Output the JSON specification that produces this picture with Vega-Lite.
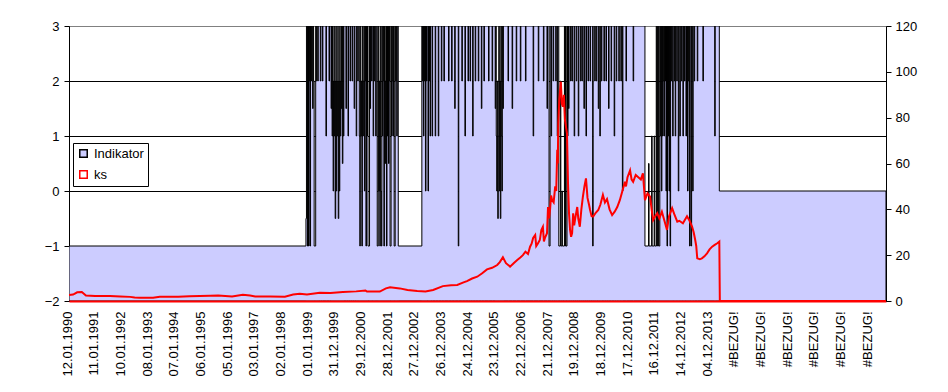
{
  "$schema": "https://vega.github.io/schema/vega-lite/v6.json",
  "width": 817,
  "height": 275,
  "autosize": {"type": "none"},
  "padding": {"left": 69, "top": 26, "right": 62, "bottom": 91},
  "background": "white",
  "config": {
    "view": {"stroke": "#808080", "strokeWidth": 1},
    "font": "Liberation Sans",
    "axis": {"labelFont": "Liberation Sans", "labelFontSize": 13, "labelColor": "#000000", "tickColor": "#000000", "domainColor": "#000000", "title": null},
    "axisX": {"labelOverlap": false, "labelFlush": false, "labelBound": false}
  },
  "datasets": {
    "ind": [
      {"i":0,"v":-1},{"i":462,"v":-0.5},{"i":463,"v":3},{"i":465,"v":-1},{"i":466,"v":3},{"i":467,"v":-1},{"i":468,"v":2},{"i":469,"v":3},{"i":470,"v":-1},{"i":471,"v":3},{"i":472,"v":2},{"i":473,"v":3},{"i":475,"v":1.5},{"i":476,"v":3},{"i":477,"v":2},{"i":478,"v":-1},{"i":481,"v":3},{"i":482,"v":2},{"i":483,"v":3},{"i":485,"v":2},{"i":486,"v":3},{"i":490,"v":2},{"i":491,"v":3},{"i":494,"v":2},{"i":495,"v":3},{"i":501,"v":1},{"i":502,"v":3},{"i":507,"v":2},{"i":508,"v":3},{"i":511,"v":1.5},{"i":512,"v":3},{"i":513,"v":1},{"i":514,"v":3},{"i":515,"v":0},{"i":516,"v":2},{"i":517,"v":1},{"i":518,"v":3},{"i":519,"v":-0.5},{"i":520,"v":2},{"i":521,"v":0},{"i":522,"v":3},{"i":523,"v":1},{"i":524,"v":2},{"i":525,"v":-0.5},{"i":526,"v":3},{"i":527,"v":0},{"i":528,"v":2},{"i":529,"v":1},{"i":530,"v":3},{"i":531,"v":1.5},{"i":532,"v":3},{"i":533,"v":0.5},{"i":534,"v":3},{"i":535,"v":1},{"i":536,"v":3},
      {"i":540,"v":1.5},{"i":541,"v":3},{"i":544,"v":1},{"i":545,"v":3},{"i":548,"v":2},{"i":549,"v":3},{"i":552,"v":2},{"i":553,"v":3},{"i":556,"v":1.5},{"i":557,"v":3},{"i":560,"v":1},{"i":561,"v":3},{"i":563,"v":2},{"i":564,"v":3},{"i":566,"v":1},{"i":567,"v":-1},{"i":568,"v":3},{"i":569,"v":1},{"i":570,"v":2},{"i":571,"v":-1},{"i":572,"v":3},{"i":573,"v":1},{"i":574,"v":2},{"i":575,"v":3},{"i":576,"v":0},{"i":577,"v":2},{"i":578,"v":3},{"i":579,"v":-1},{"i":580,"v":3},{"i":581,"v":1},{"i":582,"v":3},{"i":583,"v":-1},{"i":586,"v":3},{"i":587,"v":1.5},{"i":588,"v":3},{"i":590,"v":2},{"i":591,"v":3},{"i":593,"v":1},{"i":594,"v":3},{"i":595,"v":2},{"i":596,"v":3},{"i":598,"v":1},{"i":599,"v":3},{"i":601,"v":-1},{"i":603,"v":3},{"i":604,"v":0},{"i":605,"v":2},{"i":606,"v":-1},{"i":607,"v":3},{"i":608,"v":0},{"i":609,"v":-1},{"i":610,"v":3},{"i":611,"v":1},{"i":612,"v":2},{"i":613,"v":3},{"i":614,"v":-1},{"i":615,"v":3},{"i":616,"v":0.5},{"i":617,"v":2},{"i":618,"v":3},{"i":619,"v":-1},{"i":620,"v":3},{"i":621,"v":1},{"i":622,"v":3},{"i":623,"v":0.5},{"i":624,"v":2},{"i":625,"v":3},{"i":626,"v":-1},{"i":628,"v":3},{"i":629,"v":1},{"i":630,"v":2},{"i":631,"v":3},{"i":632,"v":1},{"i":633,"v":3},{"i":634,"v":-1},{"i":636,"v":3},{"i":637,"v":2},{"i":638,"v":3},{"i":639,"v":1},{"i":640,"v":3},{"i":642,"v":-1},
      {"i":688,"v":3},{"i":689,"v":2},{"i":690,"v":3},{"i":691,"v":1},{"i":692,"v":3},{"i":693,"v":2},{"i":694,"v":3},{"i":695,"v":0},{"i":696,"v":3},{"i":697,"v":2},{"i":698,"v":3},{"i":700,"v":0},{"i":701,"v":3},{"i":702,"v":2},{"i":703,"v":3},{"i":704,"v":1},{"i":705,"v":3},{"i":708,"v":1},{"i":709,"v":3},{"i":714,"v":1},{"i":715,"v":3},{"i":720,"v":1},{"i":721,"v":3},{"i":726,"v":2},{"i":727,"v":3},{"i":731,"v":2},{"i":732,"v":3},{"i":740,"v":2},{"i":741,"v":3},{"i":746,"v":2},{"i":747,"v":3},{"i":752,"v":1.5},{"i":753,"v":3},{"i":759,"v":-1},{"i":760,"v":3},{"i":766,"v":2},{"i":767,"v":3},{"i":772,"v":1},{"i":773,"v":3},{"i":778,"v":2},{"i":779,"v":3},{"i":782,"v":2},{"i":783,"v":3},{"i":787,"v":1},{"i":788,"v":3},{"i":792,"v":2},{"i":793,"v":3},{"i":798,"v":2},{"i":799,"v":3},{"i":804,"v":1.5},{"i":805,"v":3},{"i":809,"v":2},{"i":810,"v":3},{"i":818,"v":2},{"i":819,"v":3},{"i":825,"v":2},{"i":826,"v":3},{"i":831,"v":1.5},{"i":832,"v":3},{"i":833,"v":1},{"i":834,"v":0},{"i":835,"v":2},{"i":836,"v":-0.5},{"i":837,"v":1},{"i":838,"v":3},{"i":839,"v":0},{"i":840,"v":2},{"i":841,"v":-0.5},{"i":842,"v":3},{"i":843,"v":1},{"i":844,"v":0},{"i":845,"v":3},{"i":846,"v":1.5},{"i":847,"v":3},{"i":856,"v":2},{"i":857,"v":3},{"i":864,"v":1.5},{"i":865,"v":3},{"i":872,"v":2},{"i":873,"v":3},{"i":880,"v":2},{"i":881,"v":3},{"i":890,"v":2},{"i":891,"v":3},{"i":905,"v":1},{"i":906,"v":3},{"i":915,"v":2},{"i":916,"v":3},{"i":925,"v":2},{"i":926,"v":3},
      {"i":932,"v":1.5},{"i":933,"v":3},{"i":936,"v":-1},{"i":938,"v":3},{"i":940,"v":1},{"i":941,"v":3},{"i":944,"v":2},{"i":945,"v":3},{"i":949,"v":2},{"i":950,"v":3},{"i":952,"v":1},{"i":953,"v":3},{"i":955,"v":-1},{"i":958,"v":2},{"i":959,"v":-1},{"i":961,"v":0},{"i":962,"v":-1},{"i":966,"v":3},{"i":967,"v":-1},{"i":968,"v":3},{"i":969,"v":-1},{"i":971,"v":3},{"i":972,"v":1},{"i":973,"v":3},{"i":974,"v":1.5},{"i":975,"v":3},{"i":978,"v":2},{"i":979,"v":3},{"i":981,"v":2},{"i":982,"v":3},{"i":985,"v":1},{"i":986,"v":3},{"i":989,"v":2},{"i":990,"v":3},{"i":993,"v":1},{"i":994,"v":3},{"i":997,"v":2},{"i":998,"v":3},{"i":1000,"v":2},{"i":1001,"v":3},{"i":1004,"v":1.5},{"i":1005,"v":3},{"i":1008,"v":1},{"i":1009,"v":3},{"i":1012,"v":2},{"i":1013,"v":3},{"i":1016,"v":2},{"i":1017,"v":3},{"i":1021,"v":-1},{"i":1022,"v":3},{"i":1025,"v":2},{"i":1026,"v":3},{"i":1028,"v":2},{"i":1029,"v":3},{"i":1032,"v":1.5},{"i":1033,"v":3},{"i":1035,"v":1},{"i":1036,"v":3},{"i":1038,"v":2},{"i":1039,"v":3},{"i":1043,"v":2},{"i":1044,"v":3},{"i":1047,"v":2},{"i":1048,"v":3},{"i":1052,"v":1.5},{"i":1053,"v":3},{"i":1057,"v":2},{"i":1058,"v":3},{"i":1063,"v":1},{"i":1064,"v":3},{"i":1067,"v":2},{"i":1068,"v":3},{"i":1072,"v":2},{"i":1073,"v":3},{"i":1076,"v":2},{"i":1077,"v":3},{"i":1079,"v":0},{"i":1080,"v":3},{"i":1086,"v":2},{"i":1087,"v":3},{"i":1100,"v":2},{"i":1101,"v":3},
      {"i":1123,"v":-1},{"i":1130,"v":0.5},{"i":1131,"v":-1},{"i":1136,"v":1},{"i":1137,"v":-1},{"i":1141,"v":1},{"i":1142,"v":-1},{"i":1145,"v":3},{"i":1146,"v":-1},{"i":1147,"v":3},{"i":1148,"v":-1},{"i":1149,"v":3},{"i":1150,"v":-1},{"i":1152,"v":3},{"i":1153,"v":1},{"i":1154,"v":3},{"i":1155,"v":0},{"i":1156,"v":3},{"i":1157,"v":1},{"i":1158,"v":3},{"i":1159,"v":2},{"i":1160,"v":1},{"i":1161,"v":3},{"i":1162,"v":2},{"i":1163,"v":3},{"i":1164,"v":0},{"i":1165,"v":3},{"i":1166,"v":-1},{"i":1167,"v":3},{"i":1168,"v":1},{"i":1169,"v":3},{"i":1170,"v":0},{"i":1171,"v":3},{"i":1172,"v":-1},{"i":1173,"v":3},{"i":1174,"v":2},{"i":1175,"v":3},{"i":1177,"v":1},{"i":1178,"v":3},{"i":1180,"v":2},{"i":1181,"v":3},{"i":1182,"v":1},{"i":1183,"v":3},{"i":1185,"v":2},{"i":1186,"v":3},{"i":1188,"v":0},{"i":1189,"v":3},{"i":1191,"v":1},{"i":1192,"v":3},{"i":1194,"v":2},{"i":1195,"v":3},{"i":1197,"v":1},{"i":1198,"v":3},{"i":1200,"v":2},{"i":1201,"v":3},{"i":1203,"v":1},{"i":1204,"v":3},{"i":1206,"v":0},{"i":1207,"v":2},{"i":1208,"v":3},{"i":1210,"v":-1},{"i":1211,"v":3},{"i":1213,"v":-1},{"i":1214,"v":3},{"i":1216,"v":0},{"i":1217,"v":3},{"i":1219,"v":2},{"i":1220,"v":3},{"i":1225,"v":2},{"i":1226,"v":3},{"i":1236,"v":2},{"i":1237,"v":3},{"i":1259,"v":1},{"i":1260,"v":3},{"i":1268,"v":0},{"i":1593,"v":0}
    ],
    "ks": [
      {"i":0,"v":2.6},{"i":8,"v":2.8},{"i":16,"v":3.8},{"i":25,"v":3.9},{"i":33,"v":2.4},{"i":51,"v":2.2},{"i":80,"v":2.2},{"i":100,"v":2.0},{"i":119,"v":1.8},{"i":128,"v":1.5},{"i":138,"v":1.4},{"i":164,"v":1.4},{"i":177,"v":1.9},{"i":213,"v":1.9},{"i":235,"v":2.1},{"i":255,"v":2.2},{"i":275,"v":2.3},{"i":291,"v":2.4},{"i":318,"v":2.0},{"i":339,"v":2.7},{"i":353,"v":2.4},{"i":363,"v":2.0},{"i":392,"v":2.0},{"i":421,"v":1.9},{"i":437,"v":2.8},{"i":450,"v":3.2},{"i":464,"v":2.8},{"i":489,"v":3.6},{"i":510,"v":3.5},{"i":534,"v":3.9},{"i":560,"v":4.2},{"i":578,"v":4.6},{"i":581,"v":4.1},{"i":606,"v":4.1},{"i":618,"v":5.5},{"i":626,"v":6.0},{"i":645,"v":5.5},{"i":660,"v":4.8},{"i":679,"v":4.4},{"i":695,"v":4.2},{"i":710,"v":4.8},{"i":729,"v":6.5},{"i":745,"v":6.9},{"i":757,"v":7.0},{"i":768,"v":8.0},{"i":776,"v":8.7},{"i":786,"v":9.8},{"i":796,"v":10.6},{"i":805,"v":12.0},{"i":815,"v":13.8},{"i":825,"v":14.5},{"i":835,"v":15.7},{"i":840,"v":17.0},{"i":846,"v":19.1},{"i":852,"v":16.5},{"i":860,"v":15.0},{"i":867,"v":16.5},{"i":874,"v":17.9},{"i":880,"v":19.0},{"i":885,"v":20},{"i":890,"v":21.5},{"i":895,"v":20.5},{"i":899,"v":23.7},{"i":902,"v":25},{"i":905,"v":27.5},{"i":909,"v":28.8},{"i":911,"v":24},{"i":914,"v":25.0},{"i":918,"v":26.6},{"i":921,"v":31},{"i":924,"v":32.4},{"i":926,"v":26},{"i":928,"v":27.5},{"i":932,"v":29.6},{"i":934,"v":41},{"i":936,"v":36},{"i":938,"v":40},{"i":940,"v":46},{"i":942,"v":44},{"i":945,"v":43},{"i":948,"v":50},{"i":950,"v":48},{"i":952,"v":66},{"i":953,"v":60},{"i":954,"v":77.5},{"i":956,"v":88},{"i":959,"v":95.7},{"i":961,"v":86},{"i":963,"v":84.8},{"i":965,"v":90},{"i":967,"v":79},{"i":969,"v":76},{"i":971,"v":73},{"i":973,"v":51.4},{"i":975,"v":38},{"i":977,"v":31},{"i":979,"v":28},{"i":981,"v":29.6},{"i":983,"v":38.3},{"i":985,"v":33},{"i":987,"v":36},{"i":991,"v":41},{"i":993,"v":36},{"i":996,"v":32.4},{"i":999,"v":40},{"i":1002,"v":45.5},{"i":1005,"v":50},{"i":1008,"v":53.5},{"i":1011,"v":45},{"i":1014,"v":42},{"i":1016,"v":39.7},{"i":1019,"v":37},{"i":1022,"v":36.8},{"i":1027,"v":38.5},{"i":1032,"v":39.7},{"i":1036,"v":42},{"i":1041,"v":46.3},{"i":1045,"v":43},{"i":1049,"v":44.5},{"i":1054,"v":40},{"i":1059,"v":37.5},{"i":1064,"v":39},{"i":1069,"v":41},{"i":1074,"v":44},{"i":1079,"v":48},{"i":1084,"v":52},{"i":1086,"v":50},{"i":1089,"v":54},{"i":1094,"v":57},{"i":1097,"v":53},{"i":1100,"v":52},{"i":1105,"v":55},{"i":1110,"v":54},{"i":1115,"v":53},{"i":1119,"v":55.7},{"i":1121,"v":50},{"i":1123,"v":44},{"i":1128,"v":47},{"i":1133,"v":45.5},{"i":1136,"v":40},{"i":1139,"v":35.3},{"i":1143,"v":37},{"i":1147,"v":38.3},{"i":1151,"v":36},{"i":1156,"v":39},{"i":1161,"v":35},{"i":1166,"v":31},{"i":1170,"v":37},{"i":1176,"v":40.5},{"i":1180,"v":38},{"i":1186,"v":34.6},{"i":1190,"v":35},{"i":1197,"v":33.9},{"i":1205,"v":37},{"i":1210,"v":35},{"i":1215,"v":32.4},{"i":1218,"v":30},{"i":1221,"v":26.6},{"i":1223,"v":24},{"i":1225,"v":18.6},{"i":1230,"v":18.2},{"i":1234,"v":18.6},{"i":1239,"v":19.5},{"i":1244,"v":20.8},{"i":1249,"v":22.5},{"i":1254,"v":23.7},{"i":1259,"v":24.5},{"i":1264,"v":25.2},{"i":1268,"v":25.9},{"i":1269,"v":0},{"i":1593,"v":0}
    ]
  },
  "encoding": {
    "x": {
      "field": "i", "type": "quantitative",
      "scale": {"domain": [0, 1593], "nice": false, "zero": false},
      "axis": {
        "values": [0,52,104,156,208,260,312,364,416,468,520,572,624,676,728,780,832,884,936,988,1040,1092,1144,1196,1248,1300,1352,1404,1456,1508,1560],
        "labelExpr": "['12.01.1990','11.01.1991','10.01.1992','08.01.1993','07.01.1994','06.01.1995','05.01.1996','03.01.1997','02.01.1998','01.01.1999','31.12.1999','29.12.2000','28.12.2001','27.12.2002','26.12.2003','24.12.2004','23.12.2005','22.12.2006','21.12.2007','19.12.2008','18.12.2009','17.12.2010','16.12.2011','14.12.2012','04.12.2013','#BEZUG!','#BEZUG!','#BEZUG!','#BEZUG!','#BEZUG!','#BEZUG!'][round(datum.value / 52)]",
        "labelAngle": 270,
        "ticks": false,
        "tickSize": 0,
        "labelPadding": 10,
        "labelOffset": -2,
        "labelFlush": false,
        "labelOverlap": false,
        "labelBound": false,
        "grid": false,
        "domainColor": "#FF0000",
        "domainWidth": 2,
        "zindex": 1,
        "title": null
      }
    }
  },
  "layer": [
    {
      "data": {"name": "ind"},
      "mark": {"type": "area", "interpolate": "step-after", "strokeWidth": 1, "fillOpacity": 1, "clip": true},
      "encoding": {
        "y": {
          "field": "v", "type": "quantitative",
          "scale": {"domain": [-2, 3], "nice": false, "zero": false},
          "axis": {
            "orient": "left",
            "values": [-2, -1, 0, 1, 2, 3],
            "format": "d",
            "grid": true,
            "gridColor": {"condition": {"test": "datum.value == 3", "value": "#808080"}, "value": "#000000"},
            "gridOpacity": 1,
            "gridWidth": 1,
            "tickSize": 5,
            "labelPadding": 5,
            "domainColor": "#000000",
            "title": null
          }
        },
        "y2": {"datum": -2},
        "fill": {
          "datum": "Indikator", "type": "nominal",
          "scale": {"domain": ["Indikator", "ks"], "range": ["#CCCCFF", "#FFFFFF"]},
          "legend": {"orient": "none", "legendX": 4, "legendY": 117, "title": null, "symbolType": "square", "symbolSize": 56, "symbolStrokeWidth": 1.5, "labelFont": "Liberation Sans", "labelFontSize": 13, "labelColor": "#000000", "strokeColor": "#000000", "fillColor": "#FFFFFF", "padding": 4, "rowPadding": 6, "labelOffset": 4}
        },
        "stroke": {
          "datum": "Indikator", "type": "nominal",
          "scale": {"domain": ["Indikator", "ks"], "range": ["#000000", "#FF0000"]},
          "legend": {"orient": "none", "legendX": 4, "legendY": 117, "title": null, "symbolType": "square", "symbolSize": 56, "symbolStrokeWidth": 1.5, "labelFont": "Liberation Sans", "labelFontSize": 13, "labelColor": "#000000", "strokeColor": "#000000", "fillColor": "#FFFFFF", "padding": 4, "rowPadding": 6, "labelOffset": 4}
        }
      }
    },
    {
      "data": {"name": "ks"},
      "mark": {"type": "line", "strokeWidth": 2, "color": "#FF0000", "clip": true},
      "encoding": {
        "y": {
          "field": "v", "type": "quantitative",
          "scale": {"domain": [0, 120], "nice": false, "zero": false},
          "axis": {
            "orient": "right",
            "values": [0, 20, 40, 60, 80, 100, 120],
            "grid": false,
            "tickSize": 5,
            "labelPadding": 4,
            "domainColor": "#000000",
            "zindex": 1,
            "title": null
          }
        }
      }
    }
  ],
  "resolve": {"scale": {"y": "independent"}}
}
